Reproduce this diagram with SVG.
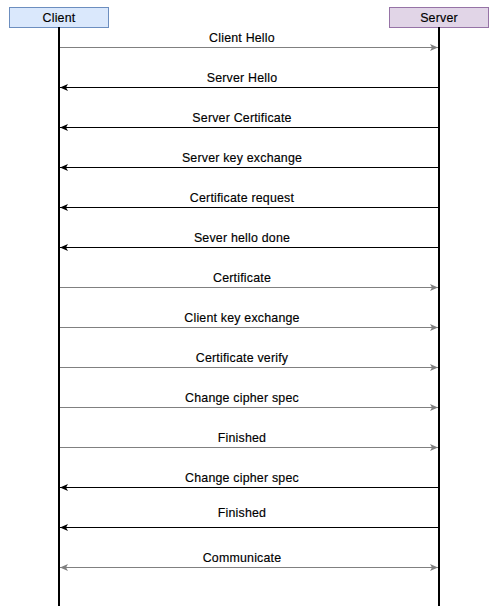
<svg xmlns="http://www.w3.org/2000/svg" width="499" height="616" viewBox="0 0 499 616">
<style>
text{font-family:"Liberation Sans",Arial,sans-serif;font-size:12.4px;letter-spacing:0.2px;fill:#000;stroke:#000;stroke-width:0.15px;text-anchor:middle}
.life{stroke:#000;stroke-width:2;fill:none}
.g{stroke:#808080;stroke-width:1;fill:none}
.b{stroke:#000;stroke-width:1;fill:none}
</style>
<defs>
<marker id="ag" viewBox="0 0 8 8" refX="8" refY="4" markerWidth="8" markerHeight="8" markerUnits="userSpaceOnUse" orient="auto-start-reverse">
<path d="M0,0.5 L8,4 L0,7.5 L2,4 Z" fill="#808080"/>
</marker>
<marker id="ab" viewBox="0 0 8 8" refX="8" refY="4" markerWidth="8" markerHeight="8" markerUnits="userSpaceOnUse" orient="auto">
<path d="M0,0.5 L8,4 L0,7.5 L2,4 Z" fill="#000"/>
</marker>
</defs>
<g id="client">
<rect x="9.5" y="7.5" width="99" height="20" fill="#dae8fc" stroke="#6c8ebf"/>
<text x="59" y="22">Client</text>
<line class="life" x1="59" y1="27" x2="59" y2="606"/>
</g>
<g id="server">
<rect x="389.5" y="7.5" width="99" height="20" fill="#e1d5e7" stroke="#9673a6"/>
<text x="439" y="22">Server</text>
<line class="life" x1="439" y1="27" x2="439" y2="606"/>
</g>
<g id="connectors">
<line class="g" x1="60" y1="47.5" x2="438" y2="47.5" marker-end="url(#ag)"/>
<line class="b" x1="438" y1="87.5" x2="60" y2="87.5" marker-end="url(#ab)"/>
<line class="b" x1="438" y1="127.5" x2="60" y2="127.5" marker-end="url(#ab)"/>
<line class="b" x1="438" y1="167.5" x2="60" y2="167.5" marker-end="url(#ab)"/>
<line class="b" x1="438" y1="207.5" x2="60" y2="207.5" marker-end="url(#ab)"/>
<line class="b" x1="438" y1="247.5" x2="60" y2="247.5" marker-end="url(#ab)"/>
<line class="g" x1="60" y1="287.5" x2="438" y2="287.5" marker-end="url(#ag)"/>
<line class="g" x1="60" y1="327.5" x2="438" y2="327.5" marker-end="url(#ag)"/>
<line class="g" x1="60" y1="367.5" x2="438" y2="367.5" marker-end="url(#ag)"/>
<line class="g" x1="60" y1="407.5" x2="438" y2="407.5" marker-end="url(#ag)"/>
<line class="g" x1="60" y1="447.5" x2="438" y2="447.5" marker-end="url(#ag)"/>
<line class="b" x1="438" y1="487.5" x2="60" y2="487.5" marker-end="url(#ab)"/>
<line class="b" x1="438" y1="527.5" x2="60" y2="527.5" marker-end="url(#ab)"/>
<line class="g" x1="60" y1="567.5" x2="438" y2="567.5" marker-start="url(#ag)" marker-end="url(#ag)"/>
<text x="242" y="42">Client Hello</text>
<text x="242" y="82">Server Hello</text>
<text x="242" y="122">Server Certificate</text>
<text x="242" y="162">Server key exchange</text>
<text x="242" y="202">Certificate request</text>
<text x="242" y="242">Sever hello done</text>
<text x="242" y="282">Certificate</text>
<text x="242" y="322">Client key exchange</text>
<text x="242" y="362">Certificate verify</text>
<text x="242" y="402">Change cipher spec</text>
<text x="242" y="442">Finished</text>
<text x="242" y="482">Change cipher spec</text>
<text x="242" y="517">Finished</text>
<text x="242" y="562">Communicate</text>
</g>
</svg>
